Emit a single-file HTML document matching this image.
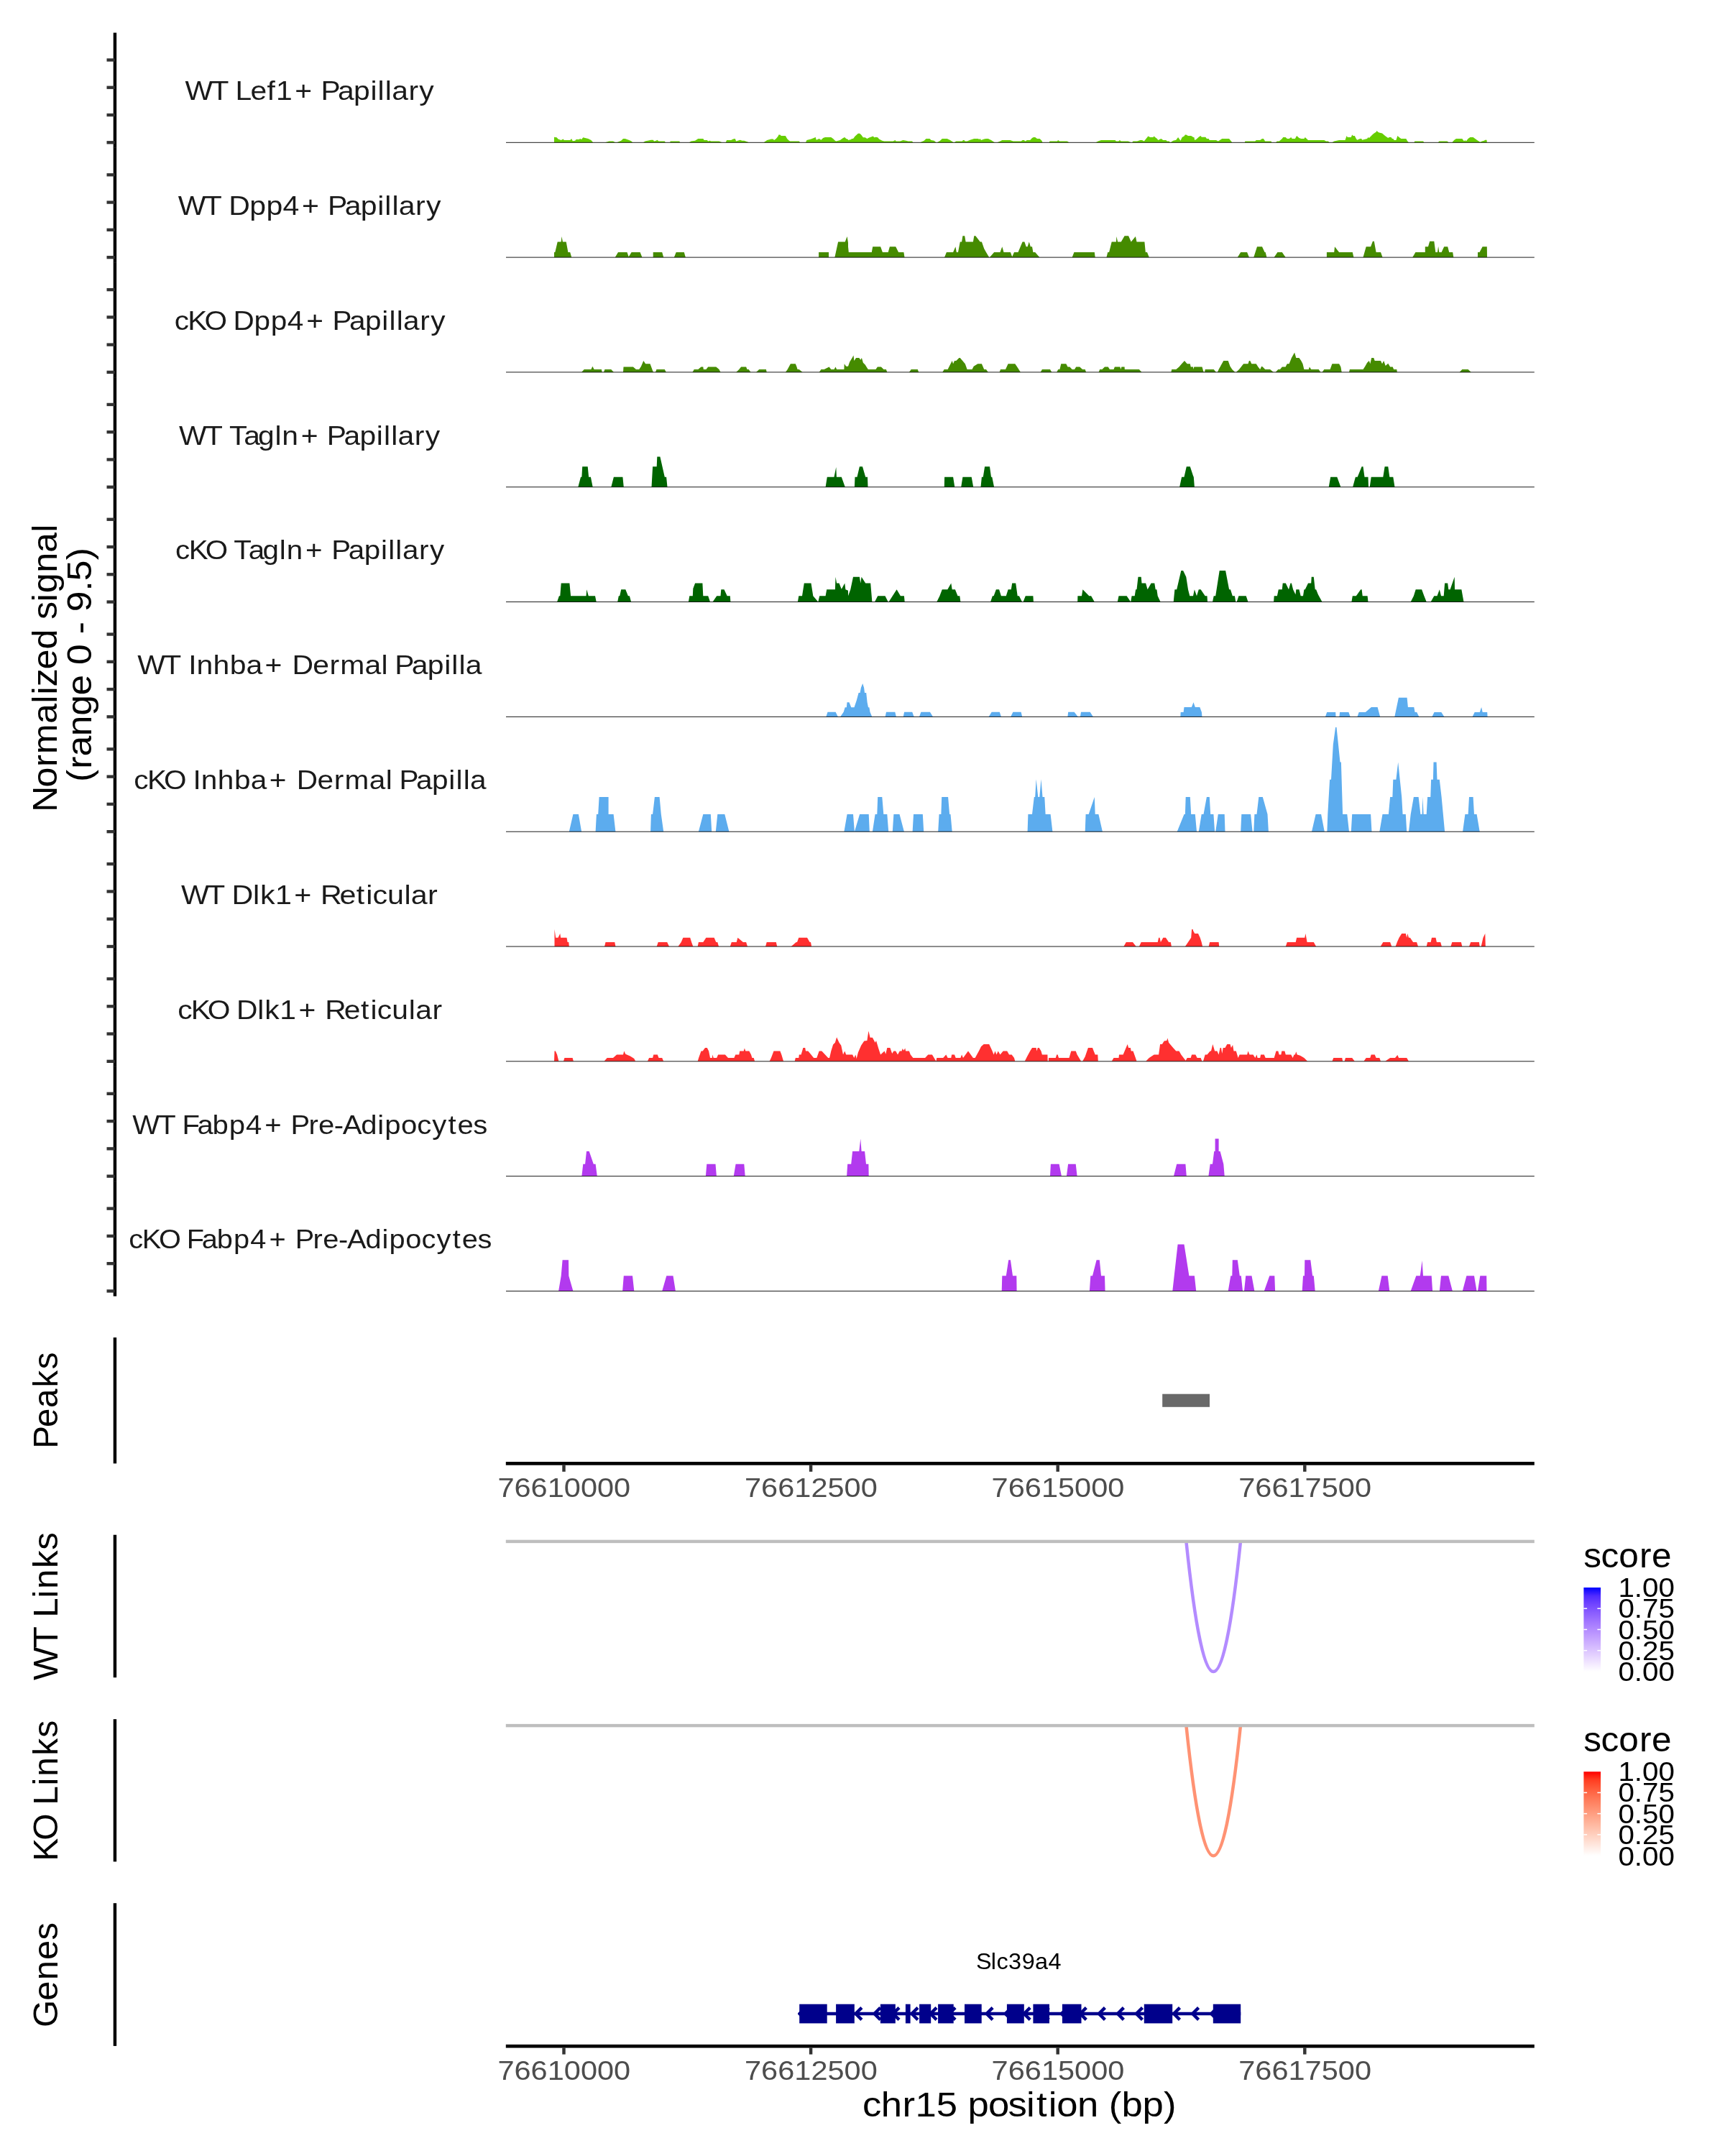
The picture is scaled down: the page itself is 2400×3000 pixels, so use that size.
<!DOCTYPE html>
<html><head><meta charset="utf-8"><title>Coverage plot</title>
<style>
html,body{margin:0;padding:0;background:#fff;}
svg{display:block;will-change:transform;}
text{font-family:"Liberation Sans",sans-serif;white-space:pre;}
</style></head><body>
<svg width="2400" height="3000" viewBox="0 0 2400 3000">
<rect width="2400" height="3000" fill="#fff"/>
<rect x="157.69" y="45.55" width="4.45" height="1758.10" fill="#000"/>
<rect x="148.50" y="196.10" width="11.12" height="4.35" fill="#333333"/>
<rect x="148.50" y="157.83" width="11.12" height="4.35" fill="#333333"/>
<rect x="148.50" y="119.56" width="11.12" height="4.35" fill="#333333"/>
<rect x="148.50" y="81.29" width="11.12" height="4.35" fill="#333333"/>
<text transform="translate(258.71 139.12) scale(1.0818 1)" x="-1.15 32.11 54.06 63.56 83.04 104.31 115.72 140.05 165.33 173.51 195.35 215.63 237.32 246.70 256.07 264.78 286.26 300.02" y="0" font-size="37.77" fill="#1a1a1a">WT Lef1+ Papillary</text>
<path d="M771.0,198.3L771.0,198.3L771.0,190.8L774.6,191.3L776.5,193.5L780.7,194.9L783.5,193.5L784.9,194.9L793.2,194.9L795.2,193.0L796.8,196.3L800.2,195.8L801.6,194.1L805.7,194.1L807.1,193.0L809.1,194.1L811.3,191.3L814.1,192.1L818.3,193.0L822.4,194.9L824.7,197.7L825.2,198.3L841.9,198.3L847.5,196.6L853.0,196.6L855.8,198.0L858.6,198.0L864.2,195.8L867.0,193.0L869.7,193.0L875.3,194.9L878.1,196.3L880.3,198.3L894.8,198.3L897.6,196.6L905.9,194.7L908.7,194.7L910.1,196.6L912.9,195.8L914.3,194.7L916.5,196.6L924.8,196.6L925.9,198.3L932.3,198.3L932.6,196.6L945.4,196.6L946.0,198.3L958.8,198.3L961.6,196.6L967.1,195.8L971.3,193.0L978.3,193.0L979.7,194.9L983.8,194.9L985.2,196.6L987.4,195.8L989.4,196.6L1000.5,196.6L1004.7,198.3L1009.7,198.3L1011.1,194.9L1017.2,194.9L1020.0,193.5L1022.8,193.0L1024.2,196.6L1029.7,194.7L1032.5,195.8L1035.3,195.8L1040.9,197.7L1041.7,198.3L1062.6,198.3L1067.3,194.9L1072.9,193.5L1075.7,193.5L1077.0,194.9L1079.8,193.0L1082.6,189.4L1083.4,187.4L1085.4,187.4L1086.8,189.1L1092.9,189.1L1095.1,193.0L1097.9,195.8L1099.3,196.6L1111.8,196.6L1113.2,198.3L1121.0,198.3L1122.4,194.9L1128.5,193.5L1133.5,191.6L1134.6,190.8L1135.8,194.7L1139.7,193.0L1142.4,194.7L1145.2,192.1L1148.0,191.0L1156.3,191.0L1159.1,193.0L1161.9,195.8L1163.3,196.6L1168.9,194.9L1173.0,192.1L1175.3,191.0L1177.2,193.0L1180.0,194.1L1180.0,194.9L1184.2,194.1L1185.0,193.0L1187.0,193.0L1189.7,189.4L1193.9,185.7L1196.1,185.7L1198.1,187.4L1200.9,191.3L1203.7,191.3L1206.4,193.0L1209.2,191.6L1212.8,190.2L1214.8,189.4L1216.2,191.3L1219.0,190.8L1221.2,191.3L1223.1,193.5L1227.3,195.8L1230.1,196.6L1242.6,196.6L1245.4,194.9L1246.8,196.6L1252.3,196.6L1256.5,194.9L1260.7,195.8L1263.5,196.6L1269.0,196.6L1270.4,198.3L1280.2,198.3L1285.7,195.8L1288.5,193.0L1293.5,193.0L1295.5,194.9L1299.7,195.8L1302.4,198.3L1303.8,198.3L1308.0,195.8L1310.8,193.0L1317.7,193.0L1321.9,194.9L1326.1,197.7L1327.5,198.3L1330.3,196.6L1338.6,196.6L1340.0,194.9L1341.4,194.9L1342.8,196.6L1345.6,196.6L1349.7,194.7L1355.3,193.0L1360.9,193.0L1362.3,194.1L1363.7,193.0L1365.0,194.9L1369.2,193.5L1372.0,193.0L1374.8,193.0L1379.0,194.9L1383.1,197.7L1384.5,198.3L1387.3,198.3L1391.5,196.6L1394.3,194.9L1405.4,194.9L1409.6,196.6L1420.7,196.6L1422.6,194.9L1424.9,194.9L1426.3,196.6L1429.0,194.9L1433.2,194.9L1436.0,192.1L1437.9,191.0L1440.2,191.0L1443.0,193.0L1446.6,193.0L1449.4,195.8L1450.5,198.3L1459.7,198.3L1460.5,196.6L1470.8,196.6L1472.2,194.9L1474.1,196.6L1484.7,196.6L1487.5,198.3L1524.5,198.3L1527.8,196.6L1532.0,194.9L1551.5,194.9L1552.9,196.6L1556.2,196.6L1557.9,194.9L1559.8,196.6L1569.6,196.6L1573.7,198.3L1575.1,198.3L1576.5,196.6L1582.1,196.6L1586.3,194.9L1589.0,194.9L1591.8,196.6L1594.6,193.0L1597.4,189.4L1600.2,191.0L1604.3,191.0L1605.7,189.4L1607.1,191.0L1609.9,193.0L1611.3,194.9L1615.5,193.0L1618.3,194.9L1622.4,194.9L1623.8,196.6L1626.6,196.6L1628.0,198.3L1629.4,197.7L1632.2,195.8L1636.3,194.7L1639.1,191.0L1640.5,193.0L1642.5,195.8L1644.7,191.0L1647.5,189.4L1648.9,187.4L1650.3,187.4L1653.0,189.1L1657.2,189.1L1660.0,190.8L1660.0,191.0L1661.4,191.0L1662.2,194.9L1664.2,194.1L1668.3,190.2L1670.6,189.1L1671.7,190.8L1677.3,190.8L1678.9,193.0L1681.7,193.0L1682.8,194.9L1692.0,194.9L1694.8,196.6L1700.3,193.0L1710.1,193.0L1714.3,198.3L1731.8,198.3L1732.3,196.6L1746.3,196.6L1747.7,194.9L1753.2,194.9L1756.0,193.0L1757.9,193.0L1760.2,196.6L1768.5,196.6L1769.4,198.3L1774.9,198.3L1776.9,196.6L1779.7,196.6L1783.8,193.0L1785.2,191.0L1788.6,191.0L1790.8,193.0L1793.6,193.0L1796.3,191.0L1797.7,193.0L1801.9,193.0L1804.1,189.1L1807.5,192.1L1810.3,193.0L1814.4,193.0L1815.8,191.0L1820.0,194.9L1842.3,194.9L1845.0,196.6L1847.8,196.6L1849.8,198.3L1853.4,198.3L1856.2,196.6L1863.1,194.9L1871.5,194.9L1872.9,191.0L1873.7,189.1L1874.8,191.0L1879.8,191.0L1881.2,187.4L1882.6,189.1L1884.8,189.1L1886.8,193.0L1888.2,194.7L1892.3,193.0L1894.3,193.0L1895.1,194.7L1902.1,193.0L1903.5,191.0L1904.9,192.1L1910.4,186.6L1913.2,184.6L1914.6,183.8L1915.4,181.9L1917.4,183.8L1918.8,184.6L1923.0,185.5L1927.1,189.1L1931.3,192.1L1932.7,191.0L1935.5,191.0L1936.9,193.0L1938.3,193.0L1939.7,194.9L1942.4,194.9L1944.4,189.1L1946.6,191.0L1949.4,193.0L1956.3,193.0L1958.3,196.6L1960.0,198.3L1967.5,198.3L1968.3,196.6L1980.0,196.6L1981.4,198.3L2000.9,198.3L2002.3,196.6L2013.4,196.6L2015.6,198.3L2020.3,198.3L2023.1,194.9L2025.9,193.0L2034.3,193.0L2037.0,196.6L2038.4,194.9L2039.8,196.6L2042.6,193.0L2045.4,191.0L2049.6,191.0L2055.1,194.9L2059.3,197.7L2062.1,196.6L2064.9,195.8L2066.3,194.7L2068.5,194.7L2068.8,198.3L2068.8,198.3Z" fill="#66cd00"/>
<rect x="704.00" y="197.83" width="1430.80" height="0.89" fill="#000"/>
<rect x="148.50" y="355.92" width="11.12" height="4.35" fill="#333333"/>
<rect x="148.50" y="317.65" width="11.12" height="4.35" fill="#333333"/>
<rect x="148.50" y="279.38" width="11.12" height="4.35" fill="#333333"/>
<rect x="148.50" y="241.11" width="11.12" height="4.35" fill="#333333"/>
<text transform="translate(249.00 298.94) scale(1.0856 1)" x="-1.21 31.96 53.86 63.75 90.49 111.82 133.18 157.43 182.63 190.76 212.53 232.74 254.38 263.72 273.06 281.72 303.14 316.84" y="0" font-size="37.77" fill="#1a1a1a">WT Dpp4+ Papillary</text>
<path d="M771.0,358.1L771.0,358.1L771.0,350.9L772.3,350.9L775.7,336.4L780.7,336.4L781.5,328.9L782.9,336.4L787.7,336.4L790.4,350.9L793.2,350.9L795.2,358.1L855.8,358.1L860.0,350.9L872.5,350.9L874.7,357.3L878.6,350.9L890.6,350.9L893.4,358.1L908.7,358.1L908.7,350.9L921.2,350.9L923.2,358.1L937.9,358.1L940.7,350.9L951.8,350.9L953.8,358.1L1139.1,358.1L1139.1,350.9L1153.0,350.9L1153.0,358.1L1161.4,358.1L1166.1,336.4L1175.8,336.4L1178.6,328.9L1180.0,337.8L1180.0,343.3L1180.8,350.9L1212.8,350.9L1214.2,343.3L1225.1,343.3L1227.9,350.9L1235.7,350.9L1237.9,343.3L1246.2,343.3L1250.1,350.9L1257.4,350.9L1258.5,358.1L1314.1,358.1L1316.9,350.9L1326.1,350.9L1329.4,343.3L1330.8,350.9L1333.0,350.9L1335.8,336.4L1338.1,336.4L1339.4,328.3L1342.2,328.3L1343.6,336.4L1353.9,336.4L1355.3,328.3L1357.3,328.3L1363.7,336.4L1365.9,336.4L1369.2,346.1L1372.0,350.9L1376.2,358.1L1377.0,358.1L1383.1,350.9L1391.5,350.9L1394.3,343.3L1396.5,350.9L1405.9,350.9L1408.2,357.3L1411.0,350.9L1416.5,350.9L1422.6,336.4L1425.4,336.4L1427.7,343.3L1429.6,343.3L1431.8,336.4L1433.8,343.3L1436.0,343.3L1437.4,350.9L1440.2,350.9L1446.3,358.1L1491.7,358.1L1494.4,350.9L1522.8,350.9L1523.7,358.1L1539.5,358.1L1541.2,350.9L1543.1,350.9L1546.7,336.4L1552.9,336.4L1553.4,328.9L1555.1,336.4L1559.8,336.4L1564.6,328.3L1570.1,328.3L1573.7,336.4L1579.9,328.9L1581.5,336.4L1592.4,336.4L1593.8,350.9L1596.0,350.9L1598.8,358.1L1721.8,358.1L1726.2,350.9L1735.1,350.9L1737.9,358.1L1744.3,358.1L1749.0,343.3L1756.0,343.3L1759.6,350.9L1760.7,350.9L1762.4,358.1L1772.7,358.1L1777.4,350.9L1783.8,350.9L1788.6,358.1L1845.9,358.1L1845.9,350.9L1856.2,350.9L1857.0,343.3L1863.1,350.9L1881.8,350.9L1883.4,358.1L1896.5,358.1L1900.7,343.3L1907.1,343.3L1909.9,335.8L1911.8,335.8L1914.6,350.9L1921.0,350.9L1923.5,358.1L1965.3,358.1L1969.4,350.9L1982.8,350.9L1982.8,343.3L1987.0,343.3L1989.2,335.8L1995.3,335.8L1997.3,350.9L2000.0,350.9L2001.1,342.8L2002.3,350.9L2005.6,350.9L2009.2,343.3L2014.2,343.3L2016.2,350.9L2021.2,350.9L2022.3,358.1L2056.0,358.1L2056.0,350.9L2058.5,350.9L2062.6,343.3L2068.8,343.3L2069.0,358.1L2069.0,358.1Z" fill="#458b00"/>
<rect x="704.00" y="357.65" width="1430.80" height="0.89" fill="#000"/>
<rect x="148.50" y="515.73" width="11.12" height="4.35" fill="#333333"/>
<rect x="148.50" y="477.46" width="11.12" height="4.35" fill="#333333"/>
<rect x="148.50" y="439.19" width="11.12" height="4.35" fill="#333333"/>
<rect x="148.50" y="400.92" width="11.12" height="4.35" fill="#333333"/>
<text transform="translate(242.82 458.76) scale(1.0731 1)" x="-0.10 17.25 38.75 66.05 76.15 103.17 124.75 146.36 170.89 196.32 204.63 226.63 247.07 268.89 278.34 287.79 296.62 318.24 332.14" y="0" font-size="37.77" fill="#1a1a1a">cKO Dpp4+ Papillary</text>
<path d="M809.1,517.9L809.1,517.9L812.7,514.0L822.4,514.0L824.4,509.8L826.6,514.0L836.9,514.0L837.7,517.9L840.0,517.9L841.4,514.0L850.3,514.0L853.9,517.9L867.0,517.9L867.5,510.4L880.9,510.4L885.0,514.0L889.2,514.0L892.0,509.8L895.3,502.0L898.1,506.2L904.5,506.2L908.7,517.4L909.3,517.9L912.0,517.9L913.4,514.0L924.8,514.0L926.8,517.9L963.5,517.9L965.7,514.0L971.3,514.0L975.5,510.4L978.3,510.4L978.8,514.0L982.4,514.0L985.2,510.4L996.3,510.4L1000.5,514.0L1002.5,517.9L1024.2,517.9L1028.3,514.0L1031.1,510.4L1038.1,510.4L1039.5,514.0L1041.7,514.0L1044.5,517.9L1052.0,517.9L1056.2,514.0L1065.9,514.0L1066.7,517.9L1092.9,517.9L1095.7,514.0L1099.9,506.2L1106.8,506.2L1108.5,510.4L1109.6,514.0L1111.8,514.0L1116.6,517.9L1139.7,517.9L1142.4,514.0L1146.6,514.0L1153.6,510.4L1156.3,514.0L1160.5,514.0L1162.5,510.4L1164.1,514.0L1174.4,514.0L1174.7,506.2L1177.2,509.8L1180.0,509.8L1180.0,509.8L1182.2,503.4L1185.6,497.9L1187.5,494.5L1188.3,502.0L1191.1,497.9L1195.3,497.9L1197.3,500.7L1198.9,497.9L1200.9,504.8L1203.7,507.6L1207.8,514.0L1218.4,514.0L1220.9,510.4L1225.9,510.4L1229.5,514.0L1232.9,514.0L1234.3,517.9L1264.9,517.9L1267.7,514.0L1276.8,514.0L1278.2,517.9L1311.3,517.9L1313.6,514.0L1318.6,514.0L1324.7,502.0L1326.1,506.2L1328.0,502.0L1330.3,502.0L1334.4,497.9L1335.8,497.9L1342.8,506.2L1345.6,514.0L1352.5,514.0L1354.7,509.8L1360.3,506.2L1365.9,506.2L1369.2,514.0L1372.0,514.0L1374.8,517.9L1390.6,517.9L1392.0,514.0L1399.0,514.0L1402.6,506.2L1412.3,506.2L1416.0,511.8L1419.9,517.9L1447.7,517.9L1449.9,514.0L1461.0,514.0L1463.3,517.9L1470.2,517.9L1472.2,514.0L1474.4,514.0L1476.3,506.2L1483.3,506.2L1485.5,510.4L1488.3,510.4L1491.7,514.0L1495.0,514.0L1497.2,510.4L1502.2,510.4L1506.1,514.0L1509.7,514.0L1511.1,517.9L1528.7,517.9L1530.1,514.0L1533.4,514.0L1537.0,510.4L1541.7,510.4L1544.0,514.0L1549.5,514.0L1550.9,510.4L1558.4,510.4L1559.3,514.0L1560.4,510.4L1564.6,510.4L1564.8,514.0L1584.9,514.0L1588.5,517.9L1629.4,517.9L1630.2,514.0L1636.3,514.0L1640.5,510.4L1644.1,506.2L1648.0,502.0L1651.7,506.2L1655.8,506.2L1656.7,510.4L1660.0,510.4L1660.0,514.0L1661.4,510.4L1672.5,510.4L1674.5,517.4L1676.1,517.9L1676.7,514.0L1688.7,514.0L1692.0,517.9L1693.9,517.9L1695.6,514.0L1697.6,510.4L1702.3,502.0L1708.7,502.0L1711.5,509.8L1714.3,514.0L1718.4,517.9L1719.8,517.9L1724.0,514.0L1726.8,510.4L1730.1,506.2L1736.5,506.2L1737.9,502.0L1739.3,502.0L1741.3,506.2L1747.7,506.2L1750.4,510.4L1753.2,514.0L1755.2,509.8L1756.8,510.4L1760.2,514.0L1767.1,514.0L1771.9,517.9L1774.6,517.9L1778.3,514.0L1781.0,514.0L1783.8,510.4L1788.6,510.4L1790.8,506.2L1793.6,506.2L1796.9,497.9L1801.1,490.4L1803.3,497.9L1807.5,497.9L1810.3,502.0L1812.5,506.2L1814.4,514.0L1820.8,514.0L1821.9,510.4L1824.2,514.0L1834.7,514.0L1837.5,517.9L1839.5,517.9L1842.3,514.0L1850.6,514.0L1853.4,506.2L1863.1,506.2L1865.4,510.4L1866.7,517.9L1877.0,517.9L1877.9,514.0L1896.5,514.0L1899.3,509.8L1902.1,504.8L1904.9,502.0L1906.3,506.2L1908.2,497.9L1911.3,497.9L1912.7,502.0L1921.0,502.0L1923.0,506.2L1925.2,502.0L1927.7,509.0L1931.3,505.7L1934.1,510.4L1937.7,510.4L1939.1,514.0L1943.3,514.0L1943.8,517.9L2030.6,517.9L2034.3,514.0L2042.6,514.0L2046.8,517.9L2046.8,517.9Z" fill="#458b00"/>
<rect x="704.00" y="517.46" width="1430.80" height="0.89" fill="#000"/>
<rect x="148.50" y="675.55" width="11.12" height="4.35" fill="#333333"/>
<rect x="148.50" y="637.28" width="11.12" height="4.35" fill="#333333"/>
<rect x="148.50" y="599.01" width="11.12" height="4.35" fill="#333333"/>
<rect x="148.50" y="560.75" width="11.12" height="4.35" fill="#333333"/>
<text transform="translate(250.30 618.58) scale(1.0801 1)" x="-1.12 32.18 54.16 63.56 82.46 100.74 122.46 131.55 155.88 181.19 189.39 211.26 231.58 253.30 262.69 272.07 280.81 302.32 316.10" y="0" font-size="37.77" fill="#1a1a1a">WT Tagln+ Papillary</text>
<path d="M804.3,677.7L804.3,677.7L808.0,663.8L809.4,663.8L810.2,649.3L817.7,649.3L819.1,663.8L821.9,663.8L824.7,677.7L850.3,677.7L853.9,663.8L866.4,663.8L867.8,677.7L906.5,677.7L908.1,649.3L913.7,649.3L914.3,635.4L918.4,635.4L924.8,663.8L927.1,663.8L928.5,677.7L1148.6,677.7L1150.8,663.8L1160.5,663.8L1163.3,649.9L1163.9,663.8L1170.8,663.8L1175.8,677.7L1188.9,677.7L1189.5,663.8L1192.5,663.8L1195.9,649.3L1200.0,649.3L1204.2,663.8L1207.0,663.8L1207.5,677.7L1313.8,677.7L1314.1,663.8L1326.1,663.8L1328.3,677.7L1337.2,677.7L1339.4,663.8L1351.7,663.8L1354.2,677.7L1364.5,677.7L1365.9,663.8L1367.8,663.8L1370.1,649.3L1377.0,649.3L1379.0,663.8L1380.3,663.8L1383.1,677.7L1641.1,677.7L1644.1,663.8L1647.5,663.8L1650.8,649.3L1655.8,649.3L1660.0,661.9L1660.0,661.9L1660.8,663.8L1661.9,677.7L1848.7,677.7L1851.2,663.8L1860.3,663.8L1865.4,677.7L1882.1,677.7L1885.9,663.8L1888.7,663.8L1894.6,649.3L1896.5,649.3L1898.5,663.8L1903.5,663.8L1904.0,677.7L1905.7,677.7L1907.7,663.8L1924.3,663.8L1926.6,649.3L1931.3,649.3L1933.3,663.8L1938.3,663.8L1940.5,677.7L1940.5,677.7Z" fill="#006400"/>
<rect x="704.00" y="677.28" width="1430.80" height="0.89" fill="#000"/>
<rect x="148.50" y="835.37" width="11.12" height="4.35" fill="#333333"/>
<rect x="148.50" y="797.10" width="11.12" height="4.35" fill="#333333"/>
<rect x="148.50" y="758.83" width="11.12" height="4.35" fill="#333333"/>
<rect x="148.50" y="720.56" width="11.12" height="4.35" fill="#333333"/>
<text transform="translate(244.12 778.40) scale(1.0678 1)" x="-0.05 17.39 39.02 66.40 75.98 95.09 113.58 135.48 144.75 169.36 194.89 203.28 225.37 245.92 267.82 277.31 286.81 295.72 317.42 331.41" y="0" font-size="37.77" fill="#1a1a1a">cKO Tagln+ Papillary</text>
<path d="M775.1,837.5L775.1,837.5L777.9,829.2L779.3,829.2L780.7,811.4L792.4,811.4L794.1,829.2L815.5,829.2L816.3,820.3L818.8,829.2L828.0,829.2L829.7,837.5L859.2,837.5L860.8,829.2L862.2,829.2L864.2,820.3L870.3,820.3L873.9,829.2L875.9,829.2L878.1,837.5L957.9,837.5L959.3,829.2L963.8,829.2L964.3,818.9L967.1,811.4L977.4,811.4L978.3,829.2L985.2,829.2L988.0,837.5L991.6,837.5L997.2,829.2L1002.5,829.2L1003.3,820.3L1007.5,820.3L1011.7,829.2L1015.8,829.2L1016.4,837.5L1109.9,837.5L1111.3,829.2L1116.0,829.2L1118.8,811.4L1128.5,811.4L1131.3,829.2L1138.3,837.5L1140.2,829.2L1148.6,829.2L1150.2,820.3L1161.9,820.3L1162.5,802.8L1164.1,811.4L1167.5,811.4L1170.8,819.7L1175.3,811.4L1176.4,820.3L1180.0,821.7L1180.0,829.2L1183.3,820.3L1187.0,802.8L1195.9,802.8L1197.3,811.4L1198.6,802.8L1204.2,811.4L1211.2,811.4L1213.4,837.5L1217.0,837.5L1221.2,829.2L1231.5,829.2L1235.7,837.5L1236.5,837.5L1247.6,820.3L1252.9,829.2L1257.9,829.2L1258.7,837.5L1303.3,837.5L1307.4,829.2L1310.8,820.3L1318.3,820.3L1323.3,811.4L1324.7,820.3L1328.9,820.3L1332.5,829.2L1335.3,829.2L1336.4,837.5L1378.1,837.5L1380.9,829.2L1382.6,829.2L1385.9,820.3L1390.1,820.3L1392.9,829.2L1399.8,829.2L1402.6,820.3L1406.8,820.3L1408.2,811.4L1413.2,811.4L1415.7,829.2L1417.9,829.2L1422.1,837.5L1423.5,837.5L1426.8,829.2L1437.4,829.2L1437.9,837.5L1499.2,837.5L1499.4,829.2L1505.0,829.2L1506.4,820.3L1515.3,829.2L1518.1,829.2L1522.8,837.5L1554.8,837.5L1556.5,829.2L1567.6,829.2L1573.2,837.5L1574.6,829.2L1578.7,829.2L1580.1,820.3L1581.5,820.3L1583.5,802.8L1587.7,802.8L1588.5,811.4L1594.1,811.4L1596.6,820.3L1601.6,811.4L1606.3,811.4L1607.7,820.3L1609.4,820.3L1610.7,829.2L1614.6,837.5L1632.7,837.5L1634.4,820.3L1637.2,820.3L1643.3,793.9L1646.1,793.9L1650.3,802.8L1653.0,820.3L1655.3,829.2L1660.0,829.2L1660.0,829.2L1661.9,820.3L1665.0,829.2L1667.8,820.3L1670.6,820.3L1676.7,829.2L1679.5,829.2L1680.0,837.5L1687.0,837.5L1688.7,829.2L1691.2,829.2L1696.7,793.9L1705.1,793.9L1710.1,820.3L1712.0,820.3L1714.8,829.2L1717.9,829.2L1719.3,837.5L1720.7,837.5L1723.4,829.2L1733.7,829.2L1736.5,837.5L1772.1,837.5L1772.7,829.2L1776.9,829.2L1778.8,820.3L1783.8,820.3L1784.7,811.4L1788.8,811.4L1793.0,820.3L1795.5,811.4L1796.9,811.4L1799.1,820.3L1802.5,827.3L1803.3,820.3L1807.5,820.3L1809.7,829.2L1813.0,829.2L1814.4,820.3L1815.8,820.3L1820.0,811.4L1824.2,811.4L1824.7,802.8L1827.8,802.8L1829.7,820.3L1831.1,820.3L1833.9,827.3L1839.5,837.5L1880.4,837.5L1881.8,829.2L1886.8,829.2L1893.2,820.3L1894.6,820.3L1895.7,829.2L1902.6,829.2L1903.5,837.5L1962.7,837.5L1966.9,829.2L1969.7,820.3L1978.1,820.3L1981.4,829.2L1984.7,837.5L1990.6,837.5L1995.3,829.2L1999.5,829.2L2002.8,820.3L2005.0,829.2L2008.7,829.2L2010.1,811.4L2014.2,811.4L2015.3,820.3L2017.6,820.3L2023.7,802.8L2024.0,820.3L2033.4,820.3L2036.5,837.5L2036.5,837.5Z" fill="#006400"/>
<rect x="704.00" y="837.10" width="1430.80" height="0.89" fill="#000"/>
<rect x="148.50" y="995.19" width="11.12" height="4.35" fill="#333333"/>
<rect x="148.50" y="956.92" width="11.12" height="4.35" fill="#333333"/>
<rect x="148.50" y="918.65" width="11.12" height="4.35" fill="#333333"/>
<rect x="148.50" y="880.38" width="11.12" height="4.35" fill="#333333"/>
<text transform="translate(192.57 938.22) scale(1.0831 1)" x="-1.17 32.06 53.99 64.32 74.70 96.05 117.42 138.44 162.35 187.59 197.53 224.00 245.50 259.09 290.75 312.06 321.05 329.21 351.02 371.28 392.96 402.32 411.68 420.37" y="0" font-size="37.77" fill="#1a1a1a">WT Inhba+ Dermal Papilla</text>
<path d="M1149.3,997.4L1149.3,997.4L1151.5,990.7L1162.6,990.7L1165.9,997.4L1169.0,997.4L1173.7,990.7L1175.7,984.3L1177.9,984.3L1178.5,977.3L1181.5,977.3L1184.3,984.3L1188.5,984.3L1191.8,974.6L1194.6,964.0L1196.6,964.0L1197.9,957.0L1200.2,950.9L1202.1,957.0L1203.0,964.0L1205.2,964.0L1206.6,977.3L1208.0,984.3L1209.4,984.3L1210.5,990.7L1213.3,997.4L1231.6,997.4L1233.0,990.7L1245.3,990.7L1246.9,997.4L1256.7,997.4L1258.1,990.7L1269.2,990.7L1271.7,997.4L1278.9,997.4L1281.4,990.7L1293.9,990.7L1298.1,997.4L1375.5,997.4L1379.7,990.7L1390.8,990.7L1393.0,997.4L1406.1,997.4L1409.4,990.7L1420.6,990.7L1422.2,997.4L1485.4,997.4L1486.2,990.7L1494.6,990.7L1499.9,997.4L1502.9,997.4L1504.0,990.7L1516.6,990.7L1521.0,997.4L1642.3,997.4L1642.7,990.9L1646.6,990.9L1647.5,984.1L1657.9,984.1L1660.5,977.2L1662.8,984.1L1669.3,984.1L1671.9,990.9L1672.5,997.4L1843.9,997.4L1846.2,990.9L1858.2,990.9L1858.5,997.4L1863.4,997.4L1864.1,990.9L1876.4,990.9L1878.7,997.4L1888.4,997.4L1890.7,990.9L1899.8,990.9L1907.9,984.1L1916.6,984.1L1920.2,997.4L1940.3,997.4L1945.9,970.7L1957.6,970.7L1958.9,984.1L1967.3,984.1L1968.6,990.9L1971.2,990.9L1974.4,997.4L1992.3,997.4L1995.5,990.9L2005.3,990.9L2009.5,997.4L2048.5,997.4L2051.7,990.9L2058.8,990.9L2061.1,984.1L2062.7,990.9L2069.2,990.9L2069.6,997.4L2069.6,997.4Z" fill="#5cacee"/>
<rect x="704.00" y="996.92" width="1430.80" height="0.89" fill="#000"/>
<rect x="148.50" y="1155.02" width="11.12" height="4.35" fill="#333333"/>
<rect x="148.50" y="1116.75" width="11.12" height="4.35" fill="#333333"/>
<rect x="148.50" y="1078.48" width="11.12" height="4.35" fill="#333333"/>
<rect x="148.50" y="1040.21" width="11.12" height="4.35" fill="#333333"/>
<text transform="translate(186.40 1098.04) scale(1.0735 1)" x="-0.10 17.23 38.73 66.02 76.43 86.96 108.50 130.06 151.26 175.38 200.81 210.90 237.58 259.23 273.03 304.93 326.37 335.44 343.74 365.73 386.17 407.99 417.43 426.87 435.70" y="0" font-size="37.77" fill="#1a1a1a">cKO Inhba+ Dermal Papilla</text>
<path d="M791.8,1157.2L791.8,1157.2L797.4,1133.0L804.9,1133.0L809.1,1157.2L828.6,1157.2L829.9,1133.0L832.2,1133.0L833.6,1109.1L846.6,1109.1L846.6,1133.0L853.6,1133.0L856.4,1157.2L905.1,1157.2L905.9,1133.0L908.1,1133.0L910.9,1109.1L917.6,1109.1L919.8,1133.0L923.2,1157.2L971.9,1157.2L978.3,1133.0L988.8,1133.0L990.2,1157.2L995.8,1157.2L998.3,1133.0L1008.3,1133.0L1014.4,1157.2L1174.4,1157.2L1178.6,1133.0L1180.0,1133.0L1180.0,1133.0L1187.0,1133.0L1188.9,1157.2L1196.1,1133.0L1208.7,1133.0L1209.8,1157.2L1213.9,1157.2L1217.6,1133.0L1220.3,1133.0L1221.2,1109.1L1227.3,1109.1L1229.3,1133.0L1234.3,1133.0L1236.2,1157.2L1241.8,1157.2L1243.4,1133.0L1251.5,1133.0L1257.9,1157.2L1269.6,1157.2L1271.0,1133.0L1283.8,1133.0L1285.2,1157.2L1305.2,1157.2L1306.6,1133.0L1309.4,1133.0L1310.2,1109.1L1319.1,1109.1L1321.1,1133.0L1322.5,1133.0L1324.7,1157.2L1429.6,1157.2L1430.4,1133.0L1436.0,1133.0L1438.8,1109.1L1440.2,1109.1L1441.6,1084.3L1444.3,1109.1L1446.3,1109.1L1448.5,1084.3L1450.5,1109.1L1453.3,1109.1L1454.6,1133.0L1461.6,1133.0L1464.4,1157.2L1509.7,1157.2L1510.6,1133.0L1514.7,1133.0L1522.8,1109.1L1523.7,1133.0L1528.4,1133.0L1533.9,1157.2L1637.7,1157.2L1647.5,1133.0L1648.9,1133.0L1649.7,1109.1L1655.8,1109.1L1657.2,1133.0L1660.0,1133.0L1660.0,1133.0L1662.8,1133.0L1665.0,1157.2L1667.8,1157.2L1671.7,1133.0L1674.5,1133.0L1678.9,1109.1L1682.8,1109.1L1684.2,1133.0L1688.4,1133.0L1690.1,1157.2L1691.2,1157.2L1694.8,1133.0L1703.7,1133.0L1704.5,1157.2L1726.2,1157.2L1727.3,1133.0L1740.1,1133.0L1742.6,1157.2L1744.3,1157.2L1745.4,1133.0L1748.5,1133.0L1751.3,1109.1L1756.8,1109.1L1763.5,1133.0L1764.9,1157.2L1825.0,1157.2L1830.6,1133.0L1838.1,1133.0L1842.8,1157.2L1846.4,1157.2L1847.3,1133.0L1850.1,1084.8L1852.0,1084.8L1854.8,1036.1L1858.1,1011.9L1859.5,1011.9L1864.5,1060.4L1865.9,1060.4L1868.1,1133.0L1874.3,1133.0L1877.0,1157.2L1879.8,1157.2L1881.2,1133.0L1907.1,1133.0L1908.5,1157.2L1919.3,1157.2L1923.5,1133.0L1931.9,1133.0L1934.1,1109.1L1937.4,1109.1L1938.3,1084.8L1942.4,1084.8L1945.2,1060.4L1950.2,1109.1L1951.6,1133.0L1955.8,1133.0L1957.2,1157.2L1960.0,1157.2L1962.7,1133.0L1966.9,1109.1L1973.6,1109.1L1976.4,1133.0L1978.6,1133.0L1979.4,1109.1L1980.6,1133.0L1984.7,1133.0L1986.1,1109.1L1990.3,1109.1L1991.1,1084.8L1993.9,1084.8L1994.5,1060.4L1998.6,1060.4L1999.5,1084.8L2002.8,1084.8L2005.6,1109.1L2010.1,1157.2L2035.1,1157.2L2038.4,1133.0L2042.6,1133.0L2044.0,1109.1L2049.6,1109.1L2051.0,1133.0L2054.6,1133.0L2058.7,1157.2L2058.7,1157.2Z" fill="#5cacee"/>
<rect x="704.00" y="1156.75" width="1430.80" height="0.89" fill="#000"/>
<rect x="148.50" y="1314.84" width="11.12" height="4.35" fill="#333333"/>
<rect x="148.50" y="1276.57" width="11.12" height="4.35" fill="#333333"/>
<rect x="148.50" y="1238.30" width="11.12" height="4.35" fill="#333333"/>
<rect x="148.50" y="1200.03" width="11.12" height="4.35" fill="#333333"/>
<text transform="translate(253.50 1257.86) scale(1.0931 1)" x="-1.32 31.66 53.45 63.22 90.15 99.20 118.43 142.50 167.57 176.08 200.33 221.65 233.88 242.45 261.14 282.66 291.22 312.52" y="0" font-size="37.77" fill="#1a1a1a">WT Dlk1+ Reticular</text>
<path d="M771.5,1317.0L771.5,1317.0L771.5,1293.1L773.2,1304.8L776.5,1304.8L779.3,1298.9L780.1,1304.8L788.5,1304.8L789.6,1310.9L791.3,1310.9L791.8,1317.0L841.1,1317.0L842.5,1310.9L855.3,1310.9L856.4,1317.0L913.7,1317.0L915.7,1310.9L928.2,1310.9L931.0,1317.0L943.5,1317.0L947.7,1310.9L950.4,1304.8L960.2,1304.8L962.1,1310.9L964.3,1317.0L970.7,1317.0L971.9,1310.9L978.3,1310.9L982.4,1304.8L993.6,1304.8L996.3,1310.9L998.3,1310.9L1000.0,1317.0L1015.8,1317.0L1017.8,1310.9L1024.7,1310.9L1026.4,1304.8L1033.9,1310.9L1038.1,1310.9L1040.0,1317.0L1065.1,1317.0L1066.7,1310.9L1079.8,1310.9L1081.2,1317.0L1100.7,1317.0L1107.7,1310.9L1109.0,1310.9L1111.3,1304.8L1123.0,1304.8L1126.6,1310.9L1128.0,1310.9L1129.1,1317.0L1563.4,1317.0L1566.8,1310.9L1576.0,1310.9L1580.7,1317.0L1584.9,1317.0L1587.7,1310.9L1610.7,1310.9L1612.1,1304.8L1613.5,1304.8L1614.9,1310.9L1618.3,1304.8L1621.9,1304.8L1626.1,1310.9L1628.8,1310.9L1629.9,1317.0L1648.9,1317.0L1653.0,1310.9L1657.2,1304.8L1658.1,1293.1L1660.0,1293.6L1660.0,1295.0L1662.2,1298.9L1667.0,1298.9L1669.7,1304.8L1671.7,1310.9L1673.1,1317.0L1681.7,1317.0L1683.1,1310.9L1695.6,1310.9L1696.2,1317.0L1788.8,1317.0L1790.8,1310.9L1802.7,1310.9L1804.1,1304.8L1815.3,1304.8L1816.4,1298.9L1818.6,1310.9L1827.8,1310.9L1831.1,1317.0L1920.7,1317.0L1924.3,1310.9L1934.1,1310.9L1936.3,1317.0L1941.6,1317.0L1943.8,1310.9L1946.6,1304.8L1950.2,1298.9L1955.8,1298.9L1957.2,1304.8L1958.3,1298.9L1960.0,1304.8L1961.9,1304.8L1966.1,1310.9L1971.1,1310.9L1973.0,1317.0L1984.7,1317.0L1986.1,1310.9L1990.6,1310.9L1992.0,1304.8L1997.5,1304.8L1998.9,1310.9L2004.2,1310.9L2005.9,1317.0L2018.4,1317.0L2020.3,1310.9L2032.9,1310.9L2034.3,1317.0L2044.0,1317.0L2046.2,1310.9L2057.9,1310.9L2058.7,1317.0L2060.7,1317.0L2063.5,1304.8L2066.3,1298.9L2066.8,1317.0L2066.8,1317.0Z" fill="#ff3030"/>
<rect x="704.00" y="1316.57" width="1430.80" height="0.89" fill="#000"/>
<rect x="148.50" y="1474.65" width="11.12" height="4.35" fill="#333333"/>
<rect x="148.50" y="1436.38" width="11.12" height="4.35" fill="#333333"/>
<rect x="148.50" y="1398.12" width="11.12" height="4.35" fill="#333333"/>
<rect x="148.50" y="1359.85" width="11.12" height="4.35" fill="#333333"/>
<text transform="translate(247.33 1417.68) scale(1.0799 1)" x="-0.15 17.06 38.42 65.60 75.59 102.74 111.97 131.44 155.81 181.12 189.84 214.35 235.86 248.23 256.96 275.90 297.61 306.35 327.86" y="0" font-size="37.77" fill="#1a1a1a">cKO Dlk1+ Reticular</text>
<path d="M771.0,1476.8L771.0,1476.8L771.5,1462.4L772.9,1462.4L775.1,1467.4L777.4,1476.8L784.0,1476.8L785.4,1472.1L796.6,1472.1L797.9,1476.8L840.5,1476.8L844.7,1472.1L853.0,1472.1L858.1,1467.4L867.0,1467.4L868.3,1462.6L870.3,1466.8L876.7,1469.6L882.3,1472.9L884.2,1476.8L900.9,1476.8L903.1,1472.1L908.1,1472.1L909.3,1467.4L914.8,1467.4L916.5,1472.1L921.2,1472.1L923.2,1476.8L970.7,1476.8L972.1,1472.1L975.5,1462.6L977.7,1462.6L981.0,1457.9L983.8,1457.9L986.1,1462.6L988.0,1472.1L990.8,1472.1L991.3,1467.4L992.7,1472.1L997.2,1472.1L999.1,1467.4L1008.9,1467.4L1013.0,1472.1L1021.4,1472.1L1023.3,1467.4L1028.3,1467.4L1029.2,1462.6L1034.7,1462.6L1035.9,1458.5L1037.3,1462.6L1042.3,1462.6L1045.0,1467.4L1046.4,1472.1L1048.7,1472.1L1050.1,1476.8L1070.6,1476.8L1072.9,1472.1L1076.5,1462.6L1085.4,1462.6L1087.3,1467.4L1090.1,1476.8L1105.7,1476.8L1106.8,1472.1L1111.3,1472.1L1111.8,1467.4L1114.6,1467.4L1117.4,1457.9L1120.2,1457.9L1121.0,1462.6L1124.3,1462.6L1128.5,1467.4L1132.1,1472.1L1136.3,1472.1L1139.7,1462.6L1143.3,1462.6L1148.0,1467.4L1152.2,1472.1L1154.1,1472.1L1156.3,1462.6L1159.1,1453.5L1161.9,1450.7L1164.1,1443.2L1167.5,1450.7L1170.3,1454.8L1173.0,1467.4L1175.3,1462.6L1177.2,1467.4L1180.0,1467.4L1180.0,1467.4L1186.1,1467.4L1188.3,1472.1L1190.3,1467.4L1191.7,1472.9L1193.9,1464.6L1198.1,1454.8L1202.3,1448.4L1206.4,1447.9L1208.4,1434.5L1210.6,1443.7L1213.9,1443.7L1217.6,1450.7L1219.0,1447.9L1222.3,1459.0L1225.1,1467.4L1230.6,1462.6L1232.3,1466.8L1234.3,1457.9L1238.4,1457.9L1241.2,1466.0L1243.4,1462.6L1246.2,1462.6L1249.0,1467.4L1251.8,1462.6L1254.6,1462.6L1255.7,1459.0L1257.4,1461.8L1259.3,1458.5L1260.1,1462.6L1264.9,1462.6L1266.8,1467.4L1270.4,1472.1L1287.1,1472.1L1291.3,1467.4L1296.9,1467.4L1300.2,1472.9L1302.4,1476.8L1303.3,1472.1L1312.2,1472.1L1316.3,1467.4L1318.6,1472.1L1323.3,1472.1L1324.1,1467.4L1328.0,1467.4L1329.7,1472.1L1336.4,1472.1L1338.1,1467.4L1340.0,1472.1L1347.0,1462.6L1353.9,1472.1L1356.7,1472.1L1362.3,1461.8L1365.0,1456.2L1368.7,1452.9L1376.2,1452.9L1380.3,1461.8L1382.6,1467.4L1384.5,1462.6L1386.5,1467.4L1388.7,1462.6L1391.5,1467.4L1395.7,1462.6L1401.2,1462.6L1404.0,1467.4L1407.6,1467.4L1411.0,1472.1L1412.3,1476.8L1425.7,1476.8L1429.0,1470.2L1433.2,1462.6L1436.0,1457.9L1441.6,1457.9L1442.4,1462.6L1443.8,1457.9L1445.7,1457.9L1448.5,1462.6L1449.9,1467.4L1457.4,1467.4L1457.7,1476.8L1458.8,1476.8L1459.1,1472.1L1468.8,1472.1L1470.2,1467.4L1471.6,1467.4L1473.0,1472.1L1487.5,1472.1L1490.3,1462.6L1496.7,1462.6L1498.6,1467.4L1504.2,1476.8L1506.1,1476.8L1509.7,1470.2L1513.9,1457.9L1520.0,1457.9L1521.7,1462.6L1523.7,1467.4L1527.3,1467.4L1527.8,1476.8L1546.7,1476.8L1549.5,1472.1L1556.5,1472.1L1557.0,1467.4L1562.6,1467.4L1568.7,1452.9L1570.1,1457.9L1572.9,1457.9L1573.7,1462.6L1576.5,1462.6L1579.9,1472.1L1581.5,1476.8L1594.1,1476.8L1598.8,1472.1L1605.7,1467.4L1612.1,1467.4L1614.1,1452.9L1616.9,1452.9L1619.7,1448.4L1623.3,1447.9L1624.4,1444.6L1626.1,1450.7L1632.2,1457.9L1636.3,1462.6L1640.5,1462.6L1643.3,1467.4L1647.5,1472.9L1649.7,1475.7L1651.7,1472.1L1656.7,1472.1L1658.1,1467.4L1660.0,1467.4L1660.0,1467.4L1663.3,1467.4L1665.6,1472.1L1670.6,1472.1L1672.5,1476.8L1673.9,1476.8L1676.7,1467.4L1679.5,1467.4L1683.7,1462.6L1685.0,1462.6L1687.3,1452.9L1690.1,1462.6L1693.4,1462.6L1695.6,1467.4L1697.6,1457.9L1699.0,1457.9L1700.3,1466.0L1701.7,1457.9L1704.5,1457.9L1707.3,1452.9L1711.5,1452.9L1712.9,1457.9L1715.1,1454.0L1716.5,1462.6L1719.8,1462.6L1722.6,1472.1L1724.6,1467.4L1735.1,1467.4L1736.5,1462.6L1738.5,1467.4L1743.5,1467.4L1746.3,1472.1L1748.5,1467.4L1749.6,1472.1L1753.2,1472.1L1754.1,1467.4L1758.8,1467.4L1760.7,1472.1L1772.7,1472.1L1775.5,1462.6L1778.3,1462.6L1779.7,1467.4L1782.4,1467.4L1783.3,1462.6L1787.4,1462.6L1788.8,1467.4L1796.3,1467.4L1798.6,1472.1L1800.5,1467.4L1801.9,1467.4L1803.3,1463.2L1804.7,1467.4L1808.9,1468.8L1814.4,1472.1L1819.2,1476.8L1853.4,1476.8L1855.3,1472.1L1867.3,1472.1L1868.1,1476.8L1870.6,1476.8L1872.0,1472.1L1881.2,1472.1L1884.8,1476.8L1897.4,1476.8L1900.7,1472.1L1906.3,1472.1L1907.7,1467.4L1912.7,1467.4L1914.6,1472.1L1919.3,1472.1L1921.0,1476.8L1927.1,1476.8L1934.1,1472.1L1941.0,1472.1L1944.4,1467.9L1946.1,1472.1L1957.2,1472.1L1960.0,1476.8L1960.0,1476.8Z" fill="#ff3030"/>
<rect x="704.00" y="1476.38" width="1430.80" height="0.89" fill="#000"/>
<rect x="148.50" y="1634.47" width="11.12" height="4.35" fill="#333333"/>
<rect x="148.50" y="1596.20" width="11.12" height="4.35" fill="#333333"/>
<rect x="148.50" y="1557.93" width="11.12" height="4.35" fill="#333333"/>
<rect x="148.50" y="1519.66" width="11.12" height="4.35" fill="#333333"/>
<text transform="translate(185.22 1577.50) scale(1.0609 1)" x="-0.82 32.98 55.23 64.30 84.19 104.06 125.89 147.75 172.57 198.23 206.72 230.16 242.92 263.54 274.82 298.92 320.61 330.00 351.44 372.47 392.11 413.22 425.29 445.89" y="0" font-size="37.77" fill="#1a1a1a">WT Fabp4+ Pre-Adipocytes</text>
<path d="M809.4,1636.6L809.4,1636.6L811.3,1619.7L814.1,1619.7L816.0,1602.1L819.7,1602.1L825.8,1619.7L828.6,1619.7L830.8,1636.6L981.9,1636.6L983.3,1619.7L995.5,1619.7L996.9,1636.6L1020.8,1636.6L1023.6,1619.7L1035.3,1619.7L1036.7,1636.6L1178.1,1636.6L1179.2,1619.7L1180.0,1619.7L1180.0,1619.7L1184.2,1619.7L1186.1,1602.1L1195.3,1602.1L1197.3,1584.6L1198.6,1602.1L1203.1,1602.1L1205.0,1619.7L1208.4,1619.7L1208.7,1636.6L1461.0,1636.6L1461.9,1619.7L1473.6,1619.7L1476.9,1636.6L1483.9,1636.6L1486.1,1619.7L1496.7,1619.7L1498.6,1636.6L1633.0,1636.6L1637.2,1619.7L1649.4,1619.7L1650.8,1636.6L1681.4,1636.6L1683.7,1619.7L1687.0,1619.7L1689.2,1602.1L1690.6,1602.1L1690.6,1584.6L1695.6,1584.6L1695.6,1602.1L1697.6,1602.1L1702.3,1619.7L1703.7,1636.6L1703.7,1636.6Z" fill="#b23aee"/>
<rect x="704.00" y="1636.20" width="1430.80" height="0.89" fill="#000"/>
<rect x="148.50" y="1794.29" width="11.12" height="4.35" fill="#333333"/>
<rect x="148.50" y="1756.02" width="11.12" height="4.35" fill="#333333"/>
<rect x="148.50" y="1717.75" width="11.12" height="4.35" fill="#333333"/>
<rect x="148.50" y="1679.48" width="11.12" height="4.35" fill="#333333"/>
<text transform="translate(179.05 1737.32) scale(1.0525 1)" x="0.09 17.83 39.80 67.45 76.64 96.67 116.70 138.71 160.74 185.76 211.58 220.19 243.77 256.66 277.41 288.84 313.10 334.92 344.44 366.04 387.24 407.02 428.27 440.48 461.23" y="0" font-size="37.77" fill="#1a1a1a">cKO Fabp4+ Pre-Adipocytes</text>
<path d="M777.1,1796.5L777.1,1796.5L780.7,1775.3L782.6,1753.3L791.0,1753.3L791.3,1775.3L797.4,1796.5L866.1,1796.5L867.8,1775.3L880.0,1775.3L882.3,1796.5L921.2,1796.5L927.3,1775.3L936.5,1775.3L939.9,1796.5L1393.7,1796.5L1394.3,1775.3L1399.8,1775.3L1403.2,1753.3L1405.9,1753.3L1409.0,1775.3L1414.3,1775.3L1414.6,1796.5L1515.9,1796.5L1517.3,1775.3L1520.0,1775.3L1525.6,1753.3L1529.8,1753.3L1532.0,1775.3L1537.0,1775.3L1537.6,1796.5L1631.3,1796.5L1638.6,1731.6L1647.5,1731.6L1654.4,1775.3L1660.0,1775.3L1660.0,1775.3L1661.9,1775.3L1664.2,1796.5L1708.7,1796.5L1712.3,1775.3L1714.3,1775.3L1714.8,1753.3L1721.8,1753.3L1724.8,1775.3L1726.8,1775.3L1729.0,1796.5L1731.0,1796.5L1733.2,1775.3L1741.5,1775.3L1745.4,1796.5L1758.8,1796.5L1766.3,1775.3L1773.3,1775.3L1774.1,1796.5L1811.7,1796.5L1813.0,1775.3L1815.0,1775.3L1815.3,1753.3L1823.3,1753.3L1826.1,1775.3L1827.8,1775.3L1829.7,1796.5L1917.9,1796.5L1922.4,1775.3L1930.7,1775.3L1933.3,1796.5L1962.7,1796.5L1970.3,1775.3L1975.8,1775.3L1978.6,1753.9L1980.0,1775.3L1991.7,1775.3L1993.1,1796.5L2002.8,1796.5L2005.0,1775.3L2015.3,1775.3L2020.9,1796.5L2034.8,1796.5L2040.4,1775.3L2051.0,1775.3L2054.6,1796.5L2056.0,1796.5L2059.3,1775.3L2068.2,1775.3L2068.5,1796.5L2068.5,1796.5Z" fill="#b23aee"/>
<rect x="704.00" y="1796.02" width="1430.80" height="0.89" fill="#000"/>
<rect x="157.69" y="205.10" width="4.45" height="0.60" fill="#383838"/>
<rect x="157.69" y="364.92" width="4.45" height="0.60" fill="#383838"/>
<rect x="157.69" y="524.74" width="4.45" height="0.60" fill="#383838"/>
<rect x="157.69" y="684.56" width="4.45" height="0.60" fill="#383838"/>
<rect x="157.69" y="844.38" width="4.45" height="0.60" fill="#383838"/>
<rect x="157.69" y="1004.20" width="4.45" height="0.60" fill="#383838"/>
<rect x="157.69" y="1164.02" width="4.45" height="0.60" fill="#383838"/>
<rect x="157.69" y="1323.84" width="4.45" height="0.60" fill="#383838"/>
<rect x="157.69" y="1483.66" width="4.45" height="0.60" fill="#383838"/>
<rect x="157.69" y="1643.48" width="4.45" height="0.60" fill="#383838"/>
<text transform="translate(78.70 928.80) rotate(-90) translate(-199.89 0) scale(1.0656 1)" x="-1.36 31.07 57.78 74.66 114.10 140.65 152.31 162.58 185.16 211.37 237.91 250.25 273.56 284.81 311.41 337.55 364.10" y="0" font-size="47.20" fill="#000">Normalized signal</text>
<text transform="translate(126.70 925.00) rotate(-90) translate(-163.17 0) scale(1.0910 1)" x="0.21 16.79 32.70 58.49 84.74 110.60 136.47 149.64 175.95 188.69 204.03 217.20 243.51 256.68 283.18" y="0" font-size="47.20" fill="#000">(range 0 - 9.5)</text>
<rect x="157.69" y="1861.10" width="4.45" height="175.30" fill="#000"/>
<text transform="translate(79.50 1947.55) rotate(-90) translate(-66.02 0) scale(1.0064 1)" x="-2.08 27.33 54.34 82.67 107.59" y="0" font-size="47.20" fill="#000">Peaks</text>
<rect x="157.69" y="2135.70" width="4.45" height="198.50" fill="#000"/>
<text transform="translate(79.50 2234.95) rotate(-90) translate(-102.29 0) scale(1.0446 1)" x="-0.69 42.08 70.21 82.74 108.85 120.86 148.66 172.68" y="0" font-size="47.20" fill="#000">WT Links</text>
<rect x="157.69" y="2392.20" width="4.45" height="198.20" fill="#000"/>
<text transform="translate(79.50 2491.30) rotate(-90) translate(-97.47 0) scale(1.0179 1)" x="-1.05 27.43 62.75 75.78 102.37 114.91 143.40 168.04" y="0" font-size="47.20" fill="#000">KO Links</text>
<rect x="157.69" y="2648.20" width="4.45" height="198.70" fill="#000"/>
<text transform="translate(79.50 2747.55) rotate(-90) translate(-72.05 0) scale(1.0361 1)" x="-1.31 34.52 62.00 89.49 115.81" y="0" font-size="47.20" fill="#000">Genes</text>
<rect x="703.80" y="2034.08" width="1431.00" height="4.65" fill="#000"/>
<rect x="782.27" y="2038.62" width="4.45" height="9.18" fill="#333333"/>
<text transform="translate(692.41 2082.80) scale(1.1125 1)" x="0.00 20.76 41.52 62.28 83.04 103.81 124.57 145.33" y="0" font-size="37.33" fill="#4d4d4d">76610000</text>
<rect x="1125.88" y="2038.62" width="4.45" height="9.18" fill="#333333"/>
<text transform="translate(1036.01 2082.80) scale(1.1125 1)" x="0.00 20.76 41.52 62.28 83.04 103.81 124.57 145.33" y="0" font-size="37.33" fill="#4d4d4d">76612500</text>
<rect x="1469.48" y="2038.62" width="4.45" height="9.18" fill="#333333"/>
<text transform="translate(1379.61 2082.80) scale(1.1125 1)" x="0.00 20.76 41.52 62.28 83.04 103.81 124.57 145.33" y="0" font-size="37.33" fill="#4d4d4d">76615000</text>
<rect x="1813.08" y="2038.62" width="4.45" height="9.18" fill="#333333"/>
<text transform="translate(1723.21 2082.80) scale(1.1125 1)" x="0.00 20.76 41.52 62.28 83.04 103.81 124.57 145.33" y="0" font-size="37.33" fill="#4d4d4d">76617500</text>
<rect x="703.80" y="2844.88" width="1431.00" height="4.65" fill="#000"/>
<rect x="782.27" y="2849.42" width="4.45" height="9.18" fill="#333333"/>
<text transform="translate(692.41 2893.60) scale(1.1125 1)" x="0.00 20.76 41.52 62.28 83.04 103.81 124.57 145.33" y="0" font-size="37.33" fill="#4d4d4d">76610000</text>
<rect x="1125.88" y="2849.42" width="4.45" height="9.18" fill="#333333"/>
<text transform="translate(1036.01 2893.60) scale(1.1125 1)" x="0.00 20.76 41.52 62.28 83.04 103.81 124.57 145.33" y="0" font-size="37.33" fill="#4d4d4d">76612500</text>
<rect x="1469.48" y="2849.42" width="4.45" height="9.18" fill="#333333"/>
<text transform="translate(1379.61 2893.60) scale(1.1125 1)" x="0.00 20.76 41.52 62.28 83.04 103.81 124.57 145.33" y="0" font-size="37.33" fill="#4d4d4d">76615000</text>
<rect x="1813.08" y="2849.42" width="4.45" height="9.18" fill="#333333"/>
<text transform="translate(1723.21 2893.60) scale(1.1125 1)" x="0.00 20.76 41.52 62.28 83.04 103.81 124.57 145.33" y="0" font-size="37.33" fill="#4d4d4d">76617500</text>
<text transform="translate(1200.59 2944.80) scale(1.1152 1)" x="-0.50 22.49 49.23 65.48 91.63 117.80 130.81 156.42 181.02 203.99 216.44 231.52 241.92 267.51 293.64 306.88 322.67 348.76 375.09" y="0" font-size="47.20" fill="#000">chr15 position (bp)</text>
<rect x="1617.20" y="1939.70" width="65.80" height="18.10" fill="#696969"/>
<path d="M1650.4,2144.9Q1688.2,2507.3 1726,2144.9" fill="none" stroke="#b38bff" stroke-width="4.5"/>
<rect x="703.80" y="2142.68" width="1431.00" height="4.45" fill="#bebebe"/>
<text transform="translate(2204.00 2180.80) scale(1.0508 1)" x="-0.61 22.39 46.02 73.25 89.56" y="0" font-size="47.20" fill="#000">score</text>
<defs><linearGradient id="gb" x1="0" y1="1" x2="0" y2="0"><stop offset="0" stop-color="#ffffff"/><stop offset="0.1" stop-color="#f2e7ff"/><stop offset="0.2" stop-color="#e3d0ff"/><stop offset="0.3" stop-color="#d4b9ff"/><stop offset="0.4" stop-color="#c4a2ff"/><stop offset="0.5" stop-color="#b38bff"/><stop offset="0.6" stop-color="#a074ff"/><stop offset="0.7" stop-color="#8a5dff"/><stop offset="0.8" stop-color="#7145ff"/><stop offset="0.9" stop-color="#502bff"/><stop offset="1" stop-color="#0000ff"/></linearGradient></defs>
<rect x="2203.4" y="2209.00" width="23.7" height="116.90" fill="url(#gb)"/>
<text transform="translate(2251.40 2339.45) scale(1.0811 1)" x="-0.00 20.76 31.13 51.89" y="0" font-size="37.33" fill="#000">0.00</text>
<rect x="2203.40" y="2295.93" width="4.70" height="1.50" fill="#fff"/>
<rect x="2222.40" y="2295.93" width="4.70" height="1.50" fill="#fff"/>
<text transform="translate(2251.40 2309.98) scale(1.0811 1)" x="-0.00 20.76 31.13 51.89" y="0" font-size="37.33" fill="#000">0.25</text>
<rect x="2203.40" y="2266.70" width="4.70" height="1.50" fill="#fff"/>
<rect x="2222.40" y="2266.70" width="4.70" height="1.50" fill="#fff"/>
<text transform="translate(2251.40 2280.50) scale(1.0811 1)" x="-0.00 20.76 31.13 51.89" y="0" font-size="37.33" fill="#000">0.50</text>
<rect x="2203.40" y="2237.47" width="4.70" height="1.50" fill="#fff"/>
<rect x="2222.40" y="2237.47" width="4.70" height="1.50" fill="#fff"/>
<text transform="translate(2251.40 2251.03) scale(1.0811 1)" x="-0.00 20.76 31.13 51.89" y="0" font-size="37.33" fill="#000">0.75</text>
<text transform="translate(2251.40 2221.55) scale(1.0811 1)" x="-0.00 20.76 31.13 51.89" y="0" font-size="37.33" fill="#000">1.00</text>
<path d="M1650.4,2401.1Q1688.2,2763.5 1726,2401.1" fill="none" stroke="#ff9273" stroke-width="4.5"/>
<rect x="703.80" y="2398.88" width="1431.00" height="4.45" fill="#bebebe"/>
<text transform="translate(2204.00 2437.00) scale(1.0508 1)" x="-0.61 22.39 46.02 73.25 89.56" y="0" font-size="47.20" fill="#000">score</text>
<defs><linearGradient id="gr" x1="0" y1="1" x2="0" y2="0"><stop offset="0" stop-color="#ffffff"/><stop offset="0.1" stop-color="#ffece5"/><stop offset="0.2" stop-color="#ffd9cb"/><stop offset="0.3" stop-color="#ffc6b2"/><stop offset="0.4" stop-color="#ffb299"/><stop offset="0.5" stop-color="#ff9e81"/><stop offset="0.6" stop-color="#ff8969"/><stop offset="0.7" stop-color="#ff7352"/><stop offset="0.8" stop-color="#ff5b3a"/><stop offset="0.9" stop-color="#ff3e22"/><stop offset="1" stop-color="#ff0000"/></linearGradient></defs>
<rect x="2203.4" y="2465.20" width="23.7" height="116.90" fill="url(#gr)"/>
<text transform="translate(2251.40 2595.65) scale(1.0811 1)" x="-0.00 20.76 31.13 51.89" y="0" font-size="37.33" fill="#000">0.00</text>
<rect x="2203.40" y="2552.12" width="4.70" height="1.50" fill="#fff"/>
<rect x="2222.40" y="2552.12" width="4.70" height="1.50" fill="#fff"/>
<text transform="translate(2251.40 2566.18) scale(1.0811 1)" x="-0.00 20.76 31.13 51.89" y="0" font-size="37.33" fill="#000">0.25</text>
<rect x="2203.40" y="2522.90" width="4.70" height="1.50" fill="#fff"/>
<rect x="2222.40" y="2522.90" width="4.70" height="1.50" fill="#fff"/>
<text transform="translate(2251.40 2536.70) scale(1.0811 1)" x="-0.00 20.76 31.13 51.89" y="0" font-size="37.33" fill="#000">0.50</text>
<rect x="2203.40" y="2493.67" width="4.70" height="1.50" fill="#fff"/>
<rect x="2222.40" y="2493.67" width="4.70" height="1.50" fill="#fff"/>
<text transform="translate(2251.40 2507.22) scale(1.0811 1)" x="-0.00 20.76 31.13 51.89" y="0" font-size="37.33" fill="#000">0.75</text>
<text transform="translate(2251.40 2477.75) scale(1.0811 1)" x="-0.00 20.76 31.13 51.89" y="0" font-size="37.33" fill="#000">1.00</text>
<path d="M1112.3,2802.0H1726.2" stroke="#00008b" stroke-width="4.45" fill="none"/>
<path d="M1120.8,2793.6L1112.3,2802.0L1120.8,2810.4M1146.8,2793.6L1138.3,2802.0L1146.8,2810.4M1172.8,2793.6L1164.4,2802.0L1172.8,2810.4M1198.9,2793.6L1190.4,2802.0L1198.9,2810.4M1224.9,2793.6L1216.5,2802.0L1224.9,2810.4M1251.0,2793.6L1242.5,2802.0L1251.0,2810.4M1277.0,2793.6L1268.5,2802.0L1277.0,2810.4M1303.0,2793.6L1294.6,2802.0L1303.0,2810.4M1329.1,2793.6L1320.6,2802.0L1329.1,2810.4M1355.1,2793.6L1346.7,2802.0L1355.1,2810.4M1381.1,2793.6L1372.7,2802.0L1381.1,2810.4M1407.2,2793.6L1398.7,2802.0L1407.2,2810.4M1433.2,2793.6L1424.8,2802.0L1433.2,2810.4M1459.3,2793.6L1450.8,2802.0L1459.3,2810.4M1485.3,2793.6L1476.9,2802.0L1485.3,2810.4M1511.3,2793.6L1502.9,2802.0L1511.3,2810.4M1537.4,2793.6L1528.9,2802.0L1537.4,2810.4M1563.4,2793.6L1555.0,2802.0L1563.4,2810.4M1589.5,2793.6L1581.0,2802.0L1589.5,2810.4M1615.5,2793.6L1607.1,2802.0L1615.5,2810.4M1641.5,2793.6L1633.1,2802.0L1641.5,2810.4M1667.6,2793.6L1659.1,2802.0L1667.6,2810.4M1693.6,2793.6L1685.2,2802.0L1693.6,2810.4M1719.7,2793.6L1711.2,2802.0L1719.7,2810.4" stroke="#00008b" stroke-width="4.45" fill="none" stroke-linejoin="round"/>
<rect x="1112.20" y="2788.70" width="38.50" height="26.70" fill="#00008b"/>
<rect x="1163.10" y="2788.70" width="25.70" height="26.70" fill="#00008b"/>
<rect x="1224.90" y="2788.70" width="20.90" height="26.70" fill="#00008b"/>
<rect x="1259.90" y="2788.70" width="6.70" height="26.70" fill="#00008b"/>
<rect x="1279.10" y="2788.70" width="16.10" height="26.70" fill="#00008b"/>
<rect x="1305.10" y="2788.70" width="21.60" height="26.70" fill="#00008b"/>
<rect x="1342.00" y="2788.70" width="23.70" height="26.70" fill="#00008b"/>
<rect x="1400.90" y="2788.70" width="23.90" height="26.70" fill="#00008b"/>
<rect x="1437.40" y="2788.70" width="22.60" height="26.70" fill="#00008b"/>
<rect x="1477.90" y="2788.70" width="26.60" height="26.70" fill="#00008b"/>
<rect x="1591.80" y="2788.70" width="39.40" height="26.70" fill="#00008b"/>
<rect x="1687.80" y="2788.70" width="38.40" height="26.70" fill="#00008b"/>
<text transform="translate(1359.53 2740.00) scale(1.0650 1)" x="-1.39 18.01 25.22 40.76 58.36 75.63 92.90" y="0" font-size="30.49" fill="#000">Slc39a4</text>
</svg>
</body></html>
